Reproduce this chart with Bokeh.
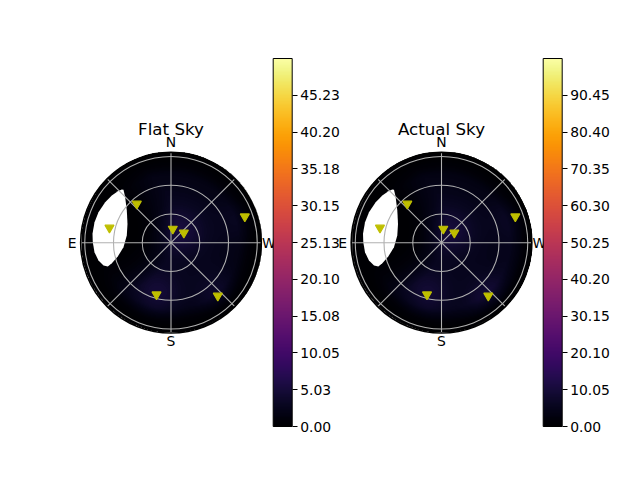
import numpy as np
from bokeh.plotting import figure
from bokeh.models import (Range1d, LinearColorMapper, ColorBar, FixedTicker,
                          PrintfTickFormatter, Label, ColumnDataSource)
from bokeh.palettes import Inferno256
from bokeh.embed import file_html
from bokeh.resources import INLINE
from bokeh.core.properties import value

# ---------------- data ----------------
RMAX = np.pi / 2                      # zenith angle of the horizon (rad)
titles = ["Flat Sky", "Actual Sky"]
cbar_high = [50.26, 100.5]
flat_ticks = [0.00, 5.03, 10.05, 15.08, 20.10, 25.13, 30.15, 35.18, 40.20, 45.23]
actual_ticks = [0.00, 10.05, 20.10, 30.15, 40.20, 50.25, 60.30, 70.35, 80.40, 90.45]

# yellow markers: azimuth (deg, N=0, E=90) and zenith angle (rad)
star_az = [41.3, 76.4, 352.6, 307.7, 289.5, 164.4, 221.4]
star_zen = [0.901, 1.101, 0.243, 0.282, 1.362, 0.936, 1.231]

# sky brightness (glow at each marker, general level)
flat_glow = [0.5, 0.0, 1.6, 1.6, 1.4, 2.6, 2.0]
actual_glow = [1.0, 0.0, 3.0, 3.0, 3.0, 5.0, 4.5]
flat_base = 2.4
actual_base = 4.6
flat_horizon = 0.0
actual_horizon = 2.5

# white (masked) region around the bright object, azimuth (deg) / zenith (rad)
mask_az = [41.9, 45.2, 53.9, 66.5, 80.7, 95.4, 104.5, 109.1, 110.6, 108.7,
           103.8, 97.1, 89.6, 83.5, 75.0, 67.2, 58.4, 51.4, 45.9, 42.8]
mask_zen = [1.237, 1.123, 0.951, 0.825, 0.779, 0.830, 0.956, 1.089, 1.174, 1.239,
            1.299, 1.341, 1.360, 1.374, 1.377, 1.368, 1.344, 1.317, 1.287, 1.261]

compass_labels = ["N", "E", "S", "W"]
compass_az = [0, 90, 180, 270]
compass_r = [1.75, 1.72, 1.71, 1.70]
ring_r = [0.5, 1.0, 1.5]
spoke_az = [0, 45, 90, 135, 180, 225, 270, 315]


def to_xy(az_deg, zen):
    a = np.radians(np.asarray(az_deg, dtype=float))
    z = np.asarray(zen, dtype=float)
    return -z * np.sin(a), z * np.cos(a)


star_x, star_y = to_xy(star_az, star_zen)
mask_x, mask_y = to_xy(mask_az, mask_zen)

# image grid
N = 360
g = np.linspace(-RMAX, RMAX, N)
X, Y = np.meshgrid(g, g)
R = np.hypot(X, Y)
moon_x, moon_y = star_x[1], star_y[1]


def sky(base, glows, horizon):
    fade = np.clip((1.53 - R) / 0.35, 0, 1)
    val = base * np.clip(1.0 - (R / 1.6) ** 4, 0, 1)
    for sx, sy, a in zip(star_x, star_y, glows):
        val = val + a * np.exp(-((X - sx) ** 2 + (Y - sy) ** 2) / (2 * 0.28 ** 2))
    # brighter band near the south-west horizon
    val = val + horizon * np.clip((R - 0.9) / 0.45, 0, 1) \
        * np.clip(1.0 - (Y + 0.2), 0, 1) * np.clip(X + 0.4, 0, 1)
    val = val * fade
    d = np.hypot(X - moon_x, Y - moon_y)
    val = val * np.clip((d - 0.35) / 0.8, 0, 1) ** 1.5
    return np.where(R > RMAX, np.nan, val)


fields = [sky(flat_base, flat_glow, flat_horizon),
          sky(actual_base, actual_glow, actual_horizon)]
ticks = [flat_ticks, actual_ticks]

# ---------------- layout (pixels) ----------------
PX = 57.5           # pixels per radian
W, H = 624, 464
cx0, cy = 170.5, 242.2
panel_dx = (441.0 - 170.5) / PX      # offset of the second sky map (data units)
cbar_left = [272.7, 542.7]
cbar_bottom = 38

FONT = "DejaVu Sans"
p = figure(width=W, height=H, output_backend="svg", toolbar_location=None,
           x_axis_location=None, y_axis_location=None,
           x_range=Range1d(-cx0 / PX, (W - cx0) / PX),
           y_range=Range1d(-(H - cy) / PX, cy / PX),
           min_border=0, outline_line_color=None,
           background_fill_color="white", border_fill_color="white")
p.grid.visible = False

for i in range(2):
    ox = i * panel_dx
    mapper = LinearColorMapper(palette=Inferno256, low=0, high=cbar_high[i],
                               nan_color="rgba(0,0,0,0)")
    p.image(image=[fields[i]], x=ox - RMAX, y=-RMAX, dw=2 * RMAX, dh=2 * RMAX,
            color_mapper=mapper)
    p.patch(mask_x + ox, mask_y, fill_color="white", line_color=None)

    # polar grid
    p.circle(x=[ox] * len(ring_r), y=[0] * len(ring_r), radius=ring_r,
             fill_color=None, line_color="#b0b0b0", line_width=1.1)
    sx_end, sy_end = to_xy(spoke_az, [RMAX] * len(spoke_az))
    p.segment(x0=[ox] * len(spoke_az), y0=[0] * len(spoke_az),
              x1=sx_end + ox, y1=sy_end,
              line_color="#b0b0b0", line_width=1.1)
    # spine
    p.circle(x=[ox], y=[0], radius=[RMAX], fill_color=None, line_color="black",
             line_width=1.6)

    p.scatter(star_x + ox, star_y, marker="inverted_triangle", size=9,
              fill_color="#bfbf00", line_color="#bfbf00", line_width=1.2)

    lx, ly = to_xy(compass_az, compass_r)
    src = ColumnDataSource(dict(x=lx + ox, y=ly, t=compass_labels))
    p.text(x="x", y="y", text="t", source=src, text_align="center",
           text_baseline="middle", text_font=value(FONT),
           text_font_size="13.9px", text_color="black")

    p.add_layout(Label(x=ox, y=(cy - 128.0) / PX, text=titles[i],
                       text_align="center", text_baseline="alphabetic",
                       text_font=FONT, text_font_size="16.7px", text_color="black"))

    cb = ColorBar(color_mapper=mapper, orientation="vertical",
                  location=(cbar_left[i], cbar_bottom), width=19, height=368,
                  padding=0, margin=0,
                  ticker=FixedTicker(ticks=ticks[i]),
                  formatter=PrintfTickFormatter(format="%.2f"),
                  bar_line_color="black", bar_line_width=1,
                  major_tick_line_color="black", major_tick_out=5, major_tick_in=0,
                  minor_tick_line_color=None, label_standoff=3,
                  major_label_text_font=FONT, major_label_text_font_size="13.9px",
                  major_label_text_color="black",
                  background_fill_color=None, border_line_color=None)
    p.add_layout(cb)

open("out.html", "w").write(file_html(p, INLINE))
